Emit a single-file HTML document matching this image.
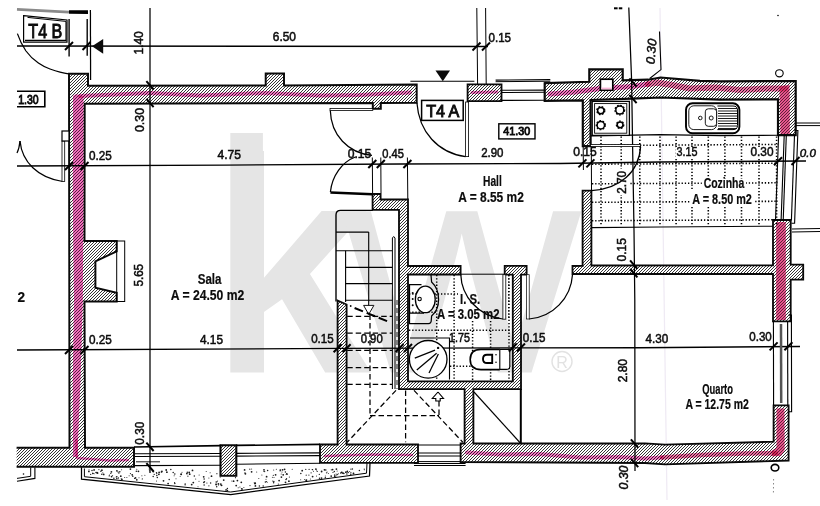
<!DOCTYPE html>
<html lang="pt"><head><meta charset="utf-8"><title>Planta T4 A</title>
<style>
html,body{margin:0;padding:0;background:#fff;overflow:hidden}
svg{display:block}
svg line,svg polyline,svg path,svg circle,svg ellipse,svg rect{fill:none;stroke:#000}
svg .w{fill:url(#h);stroke:#0a0a0a;stroke-linejoin:miter}
svg .pk{stroke:#f460b8;mix-blend-mode:multiply;fill:none;stroke-linecap:round;stroke-linejoin:round}
svg .pkf{fill:#f678c4;stroke:none;mix-blend-mode:multiply}
svg .pko{fill:#e8409f;stroke:none;opacity:0.2}
svg .pk.r{stroke:#f0669e}
svg .pkf.r{fill:#ee6098}
svg .pko.r{fill:#d83a74;opacity:0.3}
svg text{font-family:"Liberation Sans",sans-serif;fill:#0c0c0c;stroke:#0c0c0c;stroke-width:0.5px}
svg text.b{font-weight:bold;stroke-width:0.2px}
svg text.m{stroke-width:0.9px}
svg .wm{fill:#e5e5e5;stroke:none}
svg .fillw{fill:#fff}
#stip circle{fill:#1a1a1a;stroke:none}
svg .cov{fill:#fff;stroke:none}
svg .blk{fill:#0a0a0a;stroke:none}
</style></head>
<body>
<svg width="820" height="506" viewBox="0 0 820 506">
<defs>
<pattern id="h" width="3" height="3" patternUnits="userSpaceOnUse">
<rect x="0" y="0" width="3" height="3" style="fill:#fff;stroke:none"/>
<path d="M-1,4 L4,-1 M-1,1 L1,-1 M2,4 L4,2" style="stroke:#111;stroke-width:0.85;fill:none"/>
</pattern>
</defs>
<g id="wm">
<text class="wm" style="stroke:none" id="wk" x="200.7" y="372.5" font-size="305.7" font-weight="bold">k</text>
<rect class="cov" x="212" y="125" width="18.3" height="255"/>
<rect class="wm" x="230.3" y="133" width="32.6" height="25" style="stroke:none"/>
<text class="wm" style="stroke:none" id="ww" x="0" y="0" font-size="305" transform="translate(342.7,372.5) scale(1.08,1)">w</text>
<circle cx="562" cy="361.5" r="10" style="stroke:#e2e2e2;stroke-width:1.4;fill:none"/>
<text x="562" y="367.5" font-size="16" text-anchor="middle" style="fill:#e2e2e2;stroke:none">R</text>
</g>
<line x1="660" y1="8" x2="667" y2="500" stroke-width="1.25" style="stroke:#efeaf4"/>
<g id="thin">
<line x1="69.1" y1="19" x2="69.1" y2="56.4" stroke-width="1.38" />
<line x1="87.2" y1="19" x2="87.2" y2="55.7" stroke-width="1.38" />
<line x1="90.4" y1="10" x2="90.6" y2="80" stroke-width="1.25" />
<path d="M17.4,33.6 C21,44 24,48 26,51 C33,61 44,67 50,69 C57,71.5 62,73 68.5,73.8" stroke-width="1.25" />
<path d="M20,141 C22,162 38,178 62.7,181.5" stroke-width="1.25" />
<path d="M17,153 C18.5,150 19.5,146 20,141" stroke-width="1.25" />
<rect x="62" y="141" width="2.7" height="40.5" stroke-width="0.8" class="fillw"/>
<line x1="476.8" y1="8" x2="477.6" y2="84" stroke-width="1.00" />
<line x1="485.6" y1="8" x2="486.2" y2="84" stroke-width="1.00" />
<polyline points="659.5,31.4 661,69.6 649.7,78.5" stroke-width="1.12" />
<line x1="17" y1="9.3" x2="69" y2="12.2" stroke-width="2.75" style="stroke:#8a8a8a"/>
<line x1="69" y1="12" x2="88" y2="12.2" stroke-width="3.75" />
<line x1="614" y1="8.3" x2="617.6" y2="8.3" stroke-width="2.00" />
<line x1="618.8" y1="8.3" x2="622.3" y2="8.3" stroke-width="2.00" />
</g>
<g id="walls">
<polygon class="w" points="69,73.8 88,73.8 88,85.7 265.7,85.5 265.7,73.5 284,73.5 284,85.4 416.7,84.6 416.7,102.9 380.8,103 380.8,108.8 372.8,108.8 372.8,103.1 84.7,103.7 84.5,241 116.7,241 116.7,251.3 95.4,261.3 95.4,287.7 116.7,292.7 116.7,301.5 84.5,301.5 85,447.8 134,447.8 134,466.8 13,466.8 13,447.8 69.5,447.8" stroke-width="1.95"/>
<rect x="62" y="131" width="7" height="10" stroke-width="1.2" class="fillw"/>
<rect x="116.7" y="241" width="8" height="60.5" stroke-width="1.0"/>
<polygon class="w" points="220.5,445.3 236.3,445.3 236.3,475.8 220.5,475.8" stroke-width="2.07"/>
<polygon class="w" points="337.6,300.5 346.6,304.5 346.6,444.5 418,444.5 418,462.8 320,462.8 320,444.5 337.6,444.5" stroke-width="1.84"/>
<polygon class="w" points="372.6,194 380.6,194 380.6,199.5 408,199.5 408,266 460.6,266 460.6,274.5 408,274.5 408,381.4 512.8,381.4 512.8,274.7 504.7,274.7 504.7,265.9 526.6,265.9 526.6,274.7 521,274.7 521,389.2 473.4,389.2 473.4,443.5 645,443.3 665,444.7 773.6,441.7 773.6,405.3 788.6,405.3 788.6,460.5 665,464.3 645,463 460.6,462 460.6,443.5 464.6,443.5 464.6,389.2 399,389.2 399,209.8 372.6,209.8" stroke-width="1.84"/>
<polygon class="w" points="467.6,84.3 501.5,84.3 501.5,101.2 467.6,101.2" stroke-width="1.84"/>
<polygon class="w" points="544.7,83.2 589.3,81.8 589.3,69.3 622.7,69.3 622.7,80.3 648,79.7 660.5,77.5 700,80.8 720,81.3 795.7,81 795.7,135.1 778,135.1 778,99.3 720,99.6 661,97.5 632,98.6 590.6,100 590.6,146.1 582.8,146.1 582.8,100.4 544.7,100.8" stroke-width="2.18"/>
<polygon class="w" points="582.6,190.7 591.4,190.7 591.4,265.5 773,265.3 773,220 790.7,220 790.7,264.6 803.2,264.6 803.2,279.6 790.7,279.6 790.7,321.3 773,321.3 773,274 572.5,274 572.5,266 582.6,265.8" stroke-width="1.84"/>
</g>
<rect class="cov" x="0" y="440" width="16.6" height="32"/>
<g id="pink">
<polygon class="pkf" points="73,96 76,94 83.5,96.5 83.5,200 82.8,300 80.5,380 78,440 77.5,457 73,457 72.8,380 74,300 72.8,200"/>
<polygon class="pko" points="73,96 76,94 83.5,96.5 83.5,200 82.8,300 80.5,380 78,440 77.5,457 73,457 72.8,380 74,300 72.8,200"/>
<polyline class="pk" points="80,96 150,93 200,95.5 265,93 320,95.5 360,95 410,92.5" stroke-width="4.0" opacity="0.8969999999999999"/>
<polyline class="pk" points="76.5,440 77,458 110,460.5 128,460" stroke-width="2.6" opacity="0.9199999999999999"/>
<polyline class="pk" points="325,456 370,454.5 412,455" stroke-width="2.6" opacity="0.9199999999999999"/>
<polyline class="pk" points="472,92.5 497,92" stroke-width="3" opacity="0.9199999999999999"/>
<polyline class="pk" points="550,94 575,92 600,88.5 632,86.5 648,84" stroke-width="5" opacity="0.9199999999999999"/>
<polyline class="pk r" points="648,84 657,82.6 672,85 690,88.5 715,87.5 740,90 765,88.5 785,88.5" stroke-width="6.2" opacity="0.9199999999999999"/>
<polygon class="pkf r" points="779.5,86.5 789.5,85 789.8,134 780.5,134"/>
<polygon class="pko r" points="779.5,86.5 789.5,85 789.8,134 780.5,134"/>
<polygon class="pkf r" points="776.2,222 785.8,222 785.8,320 776.2,320"/>
<polygon class="pko r" points="776.2,222 785.8,222 785.8,320 776.2,320"/>
<polygon class="pkf r" points="776.6,408.4 784.4,408.4 784.6,450 781,456 772,456.3 771.8,450.5 776.6,448"/>
<polygon class="pko r" points="776.6,408.4 784.4,408.4 784.6,450 781,456 772,456.3 771.8,450.5 776.6,448"/>
<polyline class="pk" points="467,452.5 500,454.5 540,454 580,457.5 620,457 645,458.5 662,457.5" stroke-width="4.2" opacity="0.8624999999999999"/>
<polyline class="pk r" points="662,457.5 700,455 745,453.5 776,453.2" stroke-width="4.6" opacity="0.9774999999999999"/>
</g>
<rect x="600.4" y="79.2" width="12.4" height="11" stroke-width="1.7" class="fillw"/>
<rect x="601.3" y="87.6" width="10.6" height="1.8" style="fill:#f7b6d8;stroke:none"/>
<g id="tiles">
<line x1="601" y1="136.5" x2="601" y2="226" stroke-width="1.56" stroke-dasharray="1.3 1.9"/>
<line x1="621.2" y1="136.5" x2="621.2" y2="226" stroke-width="1.56" stroke-dasharray="1.3 1.9"/>
<line x1="639.8" y1="136.5" x2="639.8" y2="226" stroke-width="1.56" stroke-dasharray="1.3 1.9"/>
<line x1="660" y1="136.5" x2="660" y2="226" stroke-width="1.56" stroke-dasharray="1.3 1.9"/>
<line x1="676.1" y1="136.5" x2="676.1" y2="226" stroke-width="1.56" stroke-dasharray="1.3 1.9"/>
<line x1="692" y1="136.5" x2="692" y2="226" stroke-width="1.56" stroke-dasharray="1.3 1.9"/>
<line x1="708.3" y1="136.5" x2="708.3" y2="226" stroke-width="1.56" stroke-dasharray="1.3 1.9"/>
<line x1="724.9" y1="136.5" x2="724.9" y2="226" stroke-width="1.56" stroke-dasharray="1.3 1.9"/>
<line x1="741.5" y1="136.5" x2="741.5" y2="226" stroke-width="1.56" stroke-dasharray="1.3 1.9"/>
<line x1="759" y1="136.5" x2="759" y2="226" stroke-width="1.56" stroke-dasharray="1.3 1.9"/>
<line x1="776.6" y1="136.5" x2="776.6" y2="226" stroke-width="1.56" stroke-dasharray="1.3 1.9"/>
<line x1="592" y1="145.5" x2="778" y2="144.5" stroke-width="1.56" stroke-dasharray="1.3 1.9"/>
<line x1="592" y1="164.2" x2="778" y2="163.2" stroke-width="1.56" stroke-dasharray="1.3 1.9"/>
<line x1="592" y1="183.8" x2="778" y2="182.8" stroke-width="1.56" stroke-dasharray="1.3 1.9"/>
<line x1="592" y1="202.3" x2="778" y2="201.3" stroke-width="1.56" stroke-dasharray="1.3 1.9"/>
<line x1="592" y1="220.7" x2="778" y2="219.7" stroke-width="1.56" stroke-dasharray="1.3 1.9"/>
<rect class="cov" x="701.8" y="178.5" width="44.2" height="11.5"/>
<rect class="cov" x="691" y="190" width="63" height="16"/>
<rect class="cov" x="675.5" y="147" width="23.5" height="11.5"/>
<rect class="cov" x="749.5" y="147" width="24.5" height="11.5"/>
<rect class="cov" x="617" y="169" width="12" height="26"/>
</g>
<g id="dims">
<line x1="17" y1="46" x2="488" y2="46.5" stroke-width="1.38" />
<line x1="150" y1="8" x2="150" y2="473" stroke-width="1.25" />
<polyline points="17,166 225,165.1 400,164 560,163.5 660,162 806,161" stroke-width="1.38" />
<polyline points="17,350 340,348.4 520,347.9 640,347.7 800,346.5" stroke-width="1.38" />
<polyline points="628.8,7.5 631.6,80 632.6,146 634,230 634.8,300 635,471" stroke-width="1.25" />
</g>
<g id="doors">
<rect x="330" y="108.4" width="42.8" height="2" stroke-width="0.8" class="fillw"/>
<path d="M330.3,110.4 C331,135 348,153 372,155.4" stroke-width="1.25" />
<path d="M355.3,157 C342,162 332,176 330.4,192" stroke-width="1.25" />
<polyline points="330.4,192.5 372.4,194.3" stroke-width="2.50" />
<line x1="372.3" y1="157.5" x2="372.6" y2="193" stroke-width="1.00" />
<line x1="380.8" y1="157.5" x2="381" y2="193" stroke-width="1.00" />
<line x1="407.4" y1="157.5" x2="407.8" y2="199" stroke-width="1.00" />
<line x1="410.4" y1="81.3" x2="474.4" y2="81.3" stroke-width="1.12" />
<rect x="465.6" y="102" width="3" height="54.6" stroke-width="0.8" class="fillw"/>
<path d="M416.9,102.7 C419,132 438,153 465.6,156.6" stroke-width="1.25" />
<line x1="495.6" y1="80.1" x2="550.3" y2="79.6" stroke-width="1.12" />
<line x1="495.6" y1="81.7" x2="550.3" y2="81.2" stroke-width="1.00" />
<line x1="501.5" y1="90.3" x2="544.7" y2="90.1" stroke-width="1.12" />
<line x1="501.5" y1="92.5" x2="544.7" y2="92.3" stroke-width="1.12" />
<line x1="501.5" y1="100.4" x2="544.7" y2="100.2" stroke-width="1.12" />
<line x1="591.3" y1="146" x2="591.5" y2="190.7" stroke-width="1.00" />
<line x1="583.2" y1="146" x2="583.4" y2="170" stroke-width="1.00" />
<rect x="590.4" y="144.6" width="50.2" height="2" stroke-width="0.8" class="fillw"/>
<path d="M640.6,146.6 C639,172 620,189 591.4,190.7" stroke-width="1.25" />
<line x1="460.6" y1="274.2" x2="505" y2="274.2" stroke-width="1.00" />
<rect x="502.9" y="274.7" width="2.9" height="44.5" stroke-width="0.8" class="fillw"/>
<line x1="508.6" y1="275" x2="508.6" y2="319" stroke-width="1.12" stroke-dasharray="1.2 2"/>
<path d="M460.8,274.7 C461.5,296 478,316 502.9,319" stroke-width="1.25" />
<rect x="526.6" y="274.7" width="2.6" height="44.3" stroke-width="0.7" class="fillw"/>
<path d="M529,319 C553,317 571,298 572.5,274.7" stroke-width="1.25" />
<line x1="520.8" y1="389" x2="520.8" y2="443.5" stroke-width="2.00" />
<line x1="474" y1="392" x2="520.3" y2="443" stroke-width="1.12" />
<line x1="134" y1="447" x2="221" y2="445.6" stroke-width="1.62" />
<line x1="236" y1="445.4" x2="320" y2="444.4" stroke-width="1.62" />
<line x1="135" y1="453.8" x2="221" y2="453.5" stroke-width="1.12" />
<line x1="236" y1="453.4" x2="320" y2="452.9" stroke-width="1.12" />
<line x1="135" y1="456.5" x2="221" y2="456.2" stroke-width="1.12" />
<line x1="236" y1="456.1" x2="320" y2="455.6" stroke-width="1.12" />
<line x1="135" y1="465.6" x2="221" y2="465.2" stroke-width="1.12" />
<line x1="236" y1="464.2" x2="320" y2="463.3" stroke-width="1.12" />
<line x1="136" y1="461.8" x2="160" y2="461.8" stroke-width="0.88" />
<line x1="418" y1="445" x2="460.6" y2="445" stroke-width="1.00" />
<line x1="418" y1="453" x2="460.6" y2="453" stroke-width="1.00" />
<line x1="418" y1="456" x2="460.6" y2="456" stroke-width="1.00" />
<line x1="418" y1="461.6" x2="460.6" y2="461.6" stroke-width="1.00" />
<line x1="414" y1="463.5" x2="465.6" y2="463.5" stroke-width="1.00" />
<line x1="414" y1="465.5" x2="465.6" y2="465.5" stroke-width="1.00" />
<polyline points="81.5,467.3 81.5,479.2 230.7,494.5 369.5,476 370,463" stroke-width="1.25" />
<polyline points="84.4,468.5 84.4,476.7 230.7,492 366.5,473.2 367,463" stroke-width="1.00" />
<polyline points="17,478.4 30.7,476.3 30.7,467.5" stroke-width="1.00" />
<polyline points="17,481.2 34.9,478.4 34.9,467.5" stroke-width="1.12" />
<circle cx="23.5" cy="474" r="0.8" class="blk"/>
<line x1="778.6" y1="135.2" x2="775.5" y2="220.5" stroke-width="1.12" />
<line x1="784.2" y1="135.2" x2="781.1" y2="220.5" stroke-width="1.12" />
<line x1="786.3" y1="135.2" x2="783.2" y2="220.5" stroke-width="1.12" />
<line x1="794.5" y1="135.2" x2="791.4" y2="220.5" stroke-width="1.12" />
<polyline points="794.5,130.5 797.9,130.5 794.6,223.2 791.4,223.2" stroke-width="1.12" />
<line x1="795.7" y1="123" x2="820" y2="123" stroke-width="1.00" />
<line x1="795.7" y1="125.6" x2="820" y2="125.6" stroke-width="1.00" />
<line x1="792" y1="229" x2="820" y2="228.5" stroke-width="1.00" />
<line x1="792" y1="232" x2="820" y2="231.5" stroke-width="1.00" />
<line x1="773.4" y1="321" x2="773.6" y2="405.4" stroke-width="1.12" />
<line x1="787.6" y1="321" x2="787.8" y2="405.4" stroke-width="1.12" />
<line x1="781" y1="324" x2="781.2" y2="403" stroke-width="2.50" style="stroke:#555"/>
<polyline points="788.6,315 791.4,315 791.6,411.8 788.6,411.8" stroke-width="1.12" />
</g>
<g id="stip">
<circle cx="153.2" cy="476.5" r="0.75" />
<circle cx="341.6" cy="472.2" r="0.5" />
<circle cx="255.4" cy="485.9" r="0.9" />
<circle cx="159.1" cy="472.4" r="0.9" />
<circle cx="237.4" cy="480.6" r="0.9" />
<circle cx="264.7" cy="471.6" r="0.6" />
<circle cx="328.3" cy="473.4" r="0.5" />
<circle cx="273.7" cy="470.0" r="0.5" />
<circle cx="170.8" cy="469.5" r="0.75" />
<circle cx="218.4" cy="483.9" r="0.9" />
<circle cx="285.5" cy="482.3" r="0.9" />
<circle cx="289.4" cy="477.0" r="0.6" />
<circle cx="331.3" cy="469.8" r="0.6" />
<circle cx="273.8" cy="481.5" r="0.75" />
<circle cx="204.1" cy="485.0" r="0.75" />
<circle cx="235.5" cy="477.7" r="0.6" />
<circle cx="338.4" cy="473.8" r="0.5" />
<circle cx="325.1" cy="477.9" r="0.6" />
<circle cx="281.2" cy="473.9" r="0.5" />
<circle cx="285.4" cy="472.1" r="0.75" />
<circle cx="166.2" cy="470.0" r="0.9" />
<circle cx="111.6" cy="476.6" r="0.9" />
<circle cx="336.4" cy="469.1" r="0.9" />
<circle cx="300.7" cy="479.8" r="0.5" />
<circle cx="255.2" cy="483.2" r="0.9" />
<circle cx="286.7" cy="473.7" r="0.75" />
<circle cx="227.5" cy="490.6" r="0.75" />
<circle cx="89.0" cy="469.8" r="0.5" />
<circle cx="350.8" cy="474.2" r="0.75" />
<circle cx="256.7" cy="471.9" r="0.5" />
<circle cx="359.4" cy="470.4" r="0.75" />
<circle cx="353.5" cy="473.5" r="0.9" />
<circle cx="191.7" cy="484.6" r="0.9" />
<circle cx="266.0" cy="479.2" r="0.5" />
<circle cx="259.4" cy="486.0" r="0.75" />
<circle cx="206.9" cy="483.0" r="0.6" />
<circle cx="347.3" cy="471.6" r="0.75" />
<circle cx="231.9" cy="481.0" r="0.5" />
<circle cx="306.2" cy="480.4" r="0.75" />
<circle cx="92.6" cy="473.6" r="0.6" />
<circle cx="103.7" cy="474.4" r="0.9" />
<circle cx="185.1" cy="484.8" r="0.75" />
<circle cx="292.2" cy="469.3" r="0.5" />
<circle cx="352.4" cy="469.1" r="0.75" />
<circle cx="156.8" cy="475.5" r="0.75" />
<circle cx="136.3" cy="471.2" r="0.75" />
<circle cx="321.6" cy="471.5" r="0.9" />
<circle cx="116.2" cy="477.1" r="0.6" />
<circle cx="173.2" cy="472.5" r="0.75" />
<circle cx="153.4" cy="471.6" r="0.9" />
<circle cx="267.6" cy="470.6" r="0.75" />
<circle cx="350.9" cy="472.6" r="0.6" />
<circle cx="208.9" cy="485.8" r="0.6" />
<circle cx="109.2" cy="475.9" r="0.6" />
<circle cx="333.0" cy="472.5" r="0.6" />
<circle cx="305.8" cy="469.4" r="0.6" />
<circle cx="174.6" cy="482.5" r="0.6" />
<circle cx="327.1" cy="471.9" r="0.5" />
<circle cx="311.1" cy="472.8" r="0.6" />
<circle cx="204.1" cy="478.9" r="0.75" />
<circle cx="216.2" cy="482.0" r="0.75" />
<circle cx="203.7" cy="476.8" r="0.9" />
<circle cx="130.4" cy="469.1" r="0.9" />
<circle cx="242.4" cy="489.1" r="0.6" />
<circle cx="96.0" cy="472.6" r="0.75" />
<circle cx="238.2" cy="487.7" r="0.5" />
<circle cx="325.5" cy="477.6" r="0.5" />
<circle cx="312.2" cy="469.5" r="0.6" />
<circle cx="336.2" cy="475.7" r="0.5" />
<circle cx="90.7" cy="474.4" r="0.6" />
<circle cx="92.5" cy="473.0" r="0.5" />
<circle cx="348.1" cy="472.5" r="0.75" />
<circle cx="121.9" cy="479.3" r="0.9" />
<circle cx="312.6" cy="469.7" r="0.6" />
<circle cx="141.9" cy="475.8" r="0.5" />
<circle cx="134.6" cy="478.4" r="0.6" />
<circle cx="315.9" cy="469.1" r="0.9" />
<circle cx="100.9" cy="471.3" r="0.75" />
<circle cx="258.8" cy="478.4" r="0.5" />
<circle cx="218.5" cy="485.1" r="0.5" />
<circle cx="325.3" cy="475.9" r="0.5" />
<circle cx="121.6" cy="469.7" r="0.5" />
<circle cx="324.5" cy="469.8" r="0.9" />
<circle cx="174.8" cy="474.1" r="0.75" />
<circle cx="194.3" cy="476.1" r="0.75" />
<circle cx="187.3" cy="472.3" r="0.75" />
<circle cx="206.2" cy="471.5" r="0.5" />
<circle cx="286.1" cy="474.5" r="0.5" />
<circle cx="244.6" cy="469.9" r="0.9" />
<circle cx="255.0" cy="483.6" r="0.9" />
<circle cx="264.0" cy="469.8" r="0.9" />
<circle cx="101.8" cy="474.3" r="0.75" />
<circle cx="203.9" cy="482.3" r="0.9" />
<circle cx="92.0" cy="470.6" r="0.75" />
<circle cx="280.3" cy="470.1" r="0.9" />
<circle cx="149.4" cy="470.8" r="0.5" />
<circle cx="347.3" cy="471.2" r="0.75" />
<circle cx="120.8" cy="476.2" r="0.9" />
<circle cx="272.6" cy="480.9" r="0.5" />
<circle cx="312.6" cy="476.6" r="0.9" />
<circle cx="126.9" cy="477.6" r="0.5" />
<circle cx="233.6" cy="481.2" r="0.9" />
<circle cx="136.8" cy="469.3" r="0.5" />
<circle cx="94.1" cy="469.9" r="0.9" />
<circle cx="319.5" cy="478.3" r="0.75" />
<circle cx="309.1" cy="469.4" r="0.6" />
<circle cx="116.7" cy="476.5" r="0.5" />
<circle cx="239.9" cy="487.0" r="0.6" />
<circle cx="317.2" cy="471.4" r="0.6" />
<circle cx="266.6" cy="476.7" r="0.9" />
<circle cx="157.3" cy="477.6" r="0.75" />
<circle cx="241.7" cy="488.8" r="0.9" />
<circle cx="226.1" cy="489.9" r="0.9" />
<circle cx="321.5" cy="478.1" r="0.9" />
<circle cx="279.1" cy="480.6" r="0.9" />
<circle cx="130.4" cy="473.6" r="0.6" />
<circle cx="132.2" cy="474.8" r="0.9" />
<circle cx="341.8" cy="472.4" r="0.9" />
<circle cx="250.0" cy="485.6" r="0.6" />
<circle cx="161.3" cy="471.9" r="0.75" />
<circle cx="346.9" cy="474.0" r="0.75" />
<circle cx="273.6" cy="482.8" r="0.75" />
<circle cx="334.3" cy="471.4" r="0.75" />
<circle cx="220.3" cy="477.0" r="0.6" />
<circle cx="245.4" cy="473.8" r="0.9" />
<circle cx="302.2" cy="470.7" r="0.9" />
<circle cx="282.0" cy="472.1" r="0.5" />
<circle cx="220.8" cy="484.1" r="0.9" />
<circle cx="304.7" cy="479.4" r="0.5" />
<circle cx="216.9" cy="473.7" r="0.6" />
<circle cx="267.2" cy="482.2" r="0.5" />
<circle cx="353.5" cy="473.3" r="0.6" />
<circle cx="334.5" cy="474.9" r="0.6" />
<circle cx="139.0" cy="477.7" r="0.5" />
<circle cx="337.1" cy="470.9" r="0.5" />
<circle cx="174.1" cy="475.8" r="0.5" />
<circle cx="119.8" cy="471.7" r="0.75" />
<circle cx="97.0" cy="472.6" r="0.75" />
<circle cx="88.9" cy="471.4" r="0.9" />
<circle cx="192.5" cy="470.4" r="0.9" />
<circle cx="195.7" cy="479.0" r="0.5" />
<circle cx="332.6" cy="469.6" r="0.9" />
<circle cx="118.3" cy="478.0" r="0.75" />
<circle cx="113.9" cy="478.2" r="0.75" />
<circle cx="275.6" cy="474.8" r="0.9" />
<circle cx="169.2" cy="479.5" r="0.75" />
<circle cx="116.8" cy="478.5" r="0.75" />
<circle cx="274.0" cy="477.6" r="0.5" />
<circle cx="272.4" cy="477.3" r="0.5" />
<circle cx="286.6" cy="478.7" r="0.6" />
<circle cx="266.5" cy="481.5" r="0.6" />
<circle cx="136.8" cy="479.8" r="0.9" />
<circle cx="121.2" cy="478.8" r="0.6" />
<circle cx="343.0" cy="473.2" r="0.9" />
<circle cx="241.3" cy="482.3" r="0.9" />
<circle cx="221.1" cy="485.4" r="0.5" />
<circle cx="116.9" cy="470.8" r="0.9" />
<circle cx="186.9" cy="473.6" r="0.9" />
<circle cx="101.9" cy="470.2" r="0.9" />
<circle cx="300.8" cy="473.4" r="0.75" />
<circle cx="349.7" cy="471.5" r="0.5" />
<circle cx="185.1" cy="483.6" r="0.5" />
<circle cx="129.1" cy="475.7" r="0.5" />
<circle cx="243.9" cy="487.4" r="0.5" />
<circle cx="138.4" cy="471.3" r="0.9" />
<circle cx="273.3" cy="475.3" r="0.6" />
<circle cx="251.6" cy="471.8" r="0.9" />
<circle cx="308.9" cy="475.1" r="0.6" />
<circle cx="245.0" cy="473.1" r="0.75" />
<circle cx="189.7" cy="474.2" r="0.9" />
<circle cx="334.8" cy="476.2" r="0.9" />
<circle cx="174.8" cy="483.6" r="0.75" />
<circle cx="263.2" cy="486.1" r="0.75" />
<circle cx="336.0" cy="474.0" r="0.5" />
<circle cx="254.2" cy="482.7" r="0.5" />
<circle cx="116.9" cy="476.6" r="0.6" />
<circle cx="223.7" cy="480.1" r="0.9" />
<circle cx="142.3" cy="478.9" r="0.6" />
<circle cx="97.3" cy="473.0" r="0.9" />
<circle cx="118.0" cy="471.9" r="0.6" />
<circle cx="124.7" cy="477.6" r="0.5" />
<circle cx="94.1" cy="473.7" r="0.5" />
<circle cx="181.4" cy="474.5" r="0.75" />
<circle cx="280.1" cy="471.0" r="0.5" />
<circle cx="286.0" cy="479.6" r="0.75" />
<circle cx="364.4" cy="469.7" r="0.5" />
<circle cx="326.5" cy="472.8" r="0.6" />
<circle cx="98.9" cy="469.6" r="0.6" />
<circle cx="283.2" cy="474.8" r="0.9" />
<circle cx="281.4" cy="477.1" r="0.9" />
<circle cx="144.9" cy="475.3" r="0.5" />
<circle cx="216.1" cy="484.5" r="0.9" />
<circle cx="208.9" cy="478.0" r="0.5" />
<circle cx="287.1" cy="474.2" r="0.75" />
<circle cx="211.5" cy="476.2" r="0.9" />
<circle cx="149.2" cy="469.0" r="0.6" />
<circle cx="158.9" cy="474.3" r="0.9" />
<circle cx="93.2" cy="473.4" r="0.6" />
<circle cx="264.0" cy="471.4" r="0.6" />
<circle cx="210.1" cy="472.7" r="0.5" />
<circle cx="199.1" cy="474.9" r="0.5" />
<circle cx="282.6" cy="469.8" r="0.9" />
<circle cx="97.9" cy="473.0" r="0.6" />
<circle cx="154.2" cy="474.4" r="0.6" />
<circle cx="132.8" cy="476.3" r="0.75" />
<circle cx="340.7" cy="473.0" r="0.75" />
<circle cx="163.5" cy="480.8" r="0.9" />
<circle cx="306.4" cy="480.1" r="0.9" />
<circle cx="156.5" cy="472.8" r="0.75" />
<circle cx="261.9" cy="475.1" r="0.5" />
<circle cx="102.8" cy="472.7" r="0.5" />
<circle cx="251.6" cy="469.1" r="0.5" />
<circle cx="276.3" cy="469.3" r="0.5" />
<circle cx="337.2" cy="474.5" r="0.75" />
<circle cx="310.4" cy="479.1" r="0.5" />
<circle cx="193.3" cy="482.6" r="0.9" />
<circle cx="111.4" cy="471.8" r="0.9" />
<circle cx="118.9" cy="473.0" r="0.75" />
<circle cx="236.2" cy="485.6" r="0.9" />
<circle cx="135.5" cy="477.9" r="0.9" />
<circle cx="319.3" cy="474.4" r="0.6" />
<circle cx="187.9" cy="476.2" r="0.6" />
<circle cx="210.6" cy="483.0" r="0.75" />
<circle cx="161.9" cy="471.5" r="0.9" />
<circle cx="350.9" cy="469.2" r="0.6" />
<circle cx="284.6" cy="469.3" r="0.9" />
<circle cx="112.6" cy="475.6" r="0.5" />
<circle cx="176.0" cy="478.8" r="0.5" />
<circle cx="331.2" cy="476.1" r="0.9" />
<circle cx="216.7" cy="486.8" r="0.75" />
<circle cx="364.2" cy="469.0" r="0.6" />
<circle cx="198.0" cy="486.7" r="0.5" />
<circle cx="181.1" cy="474.2" r="0.9" />
<circle cx="109.5" cy="475.0" r="0.6" />
<circle cx="278.3" cy="484.1" r="0.6" />
<circle cx="249.8" cy="469.2" r="0.6" />
<circle cx="166.9" cy="472.2" r="0.9" />
<circle cx="227.4" cy="488.6" r="0.75" />
<circle cx="306.2" cy="475.2" r="0.6" />
<circle cx="217.0" cy="481.8" r="0.5" />
<circle cx="316.5" cy="470.1" r="0.5" />
<circle cx="325.8" cy="469.9" r="0.75" />
<circle cx="110.8" cy="473.4" r="0.6" />
<circle cx="316.5" cy="475.9" r="0.5" />
<circle cx="265.4" cy="482.1" r="0.75" />
<circle cx="199.0" cy="481.3" r="0.5" />
<circle cx="168.1" cy="483.6" r="0.9" />
<circle cx="313.5" cy="471.2" r="0.5" />
<circle cx="216.0" cy="483.9" r="0.5" />
<circle cx="182.0" cy="472.2" r="0.5" />
<circle cx="343.9" cy="473.4" r="0.75" />
<circle cx="204.6" cy="481.5" r="0.6" />
<circle cx="156.5" cy="480.9" r="0.5" />
<circle cx="180.2" cy="476.2" r="0.5" />
<circle cx="156.8" cy="473.6" r="0.6" />
<circle cx="288.9" cy="481.2" r="0.9" />
<circle cx="345.9" cy="472.2" r="0.9" />
<circle cx="189.2" cy="472.4" r="0.9" />
<circle cx="221.6" cy="485.3" r="0.9" />
<circle cx="217.5" cy="481.1" r="0.5" />
</g>
<g id="stairs">
<path d="M336,301.6 L336,215 Q336,210.4 340.6,210.4 L372.8,210.4" stroke-width="1.38" />
<line x1="336" y1="232.1" x2="368.7" y2="232.1" stroke-width="1.12" />
<line x1="368.7" y1="232.1" x2="368.7" y2="305.4" stroke-width="1.12" />
<line x1="336" y1="250.7" x2="392.4" y2="250.7" stroke-width="1.12" />
<line x1="345.6" y1="250.7" x2="345.6" y2="302" stroke-width="1.12" />
<line x1="345.6" y1="267.4" x2="392.4" y2="267.4" stroke-width="1.12" />
<line x1="345.6" y1="283.6" x2="392.4" y2="283.6" stroke-width="1.12" />
<line x1="345.6" y1="300.3" x2="392.4" y2="300.3" stroke-width="1.12" />
<path d="M392.4,389 L392.4,238 Q393.7,235 395,238 L395,389" stroke-width="1.00" />
<line x1="397" y1="300" x2="397" y2="389" stroke-width="0.88" stroke-dasharray="5 3"/>
<polygon points="363.6,305.4 373.9,305.4 368.7,314.4" stroke-width="1.0" class="fillw" style="stroke:#111"/>
<line x1="354.6" y1="308" x2="389.3" y2="322" stroke-width="2.00" stroke-dasharray="9 4"/>
<circle cx="350.7" cy="306" r="0.9" class="blk"/>
<line x1="347.2" y1="316.3" x2="392" y2="316.3" stroke-width="1.25" stroke-dasharray="5.5 3"/>
<line x1="347.2" y1="333.2" x2="392" y2="333.2" stroke-width="1.25" stroke-dasharray="5.5 3"/>
<line x1="347.2" y1="350.4" x2="392" y2="350.4" stroke-width="1.25" stroke-dasharray="5.5 3"/>
<line x1="347.2" y1="367.6" x2="392" y2="367.6" stroke-width="1.25" stroke-dasharray="5.5 3"/>
<line x1="347.2" y1="384.4" x2="392" y2="384.4" stroke-width="1.25" stroke-dasharray="5.5 3"/>
<line x1="370" y1="314.4" x2="370" y2="415.6" stroke-width="1.25" stroke-dasharray="5.5 3"/>
<line x1="370" y1="415.6" x2="439" y2="415.6" stroke-width="1.25" stroke-dasharray="5.5 3"/>
<line x1="405.6" y1="390.4" x2="405.6" y2="442.2" stroke-width="1.25" stroke-dasharray="5.5 3"/>
<line x1="439" y1="401" x2="439" y2="415.6" stroke-width="1.25" stroke-dasharray="5.5 3"/>
<line x1="396" y1="390.4" x2="347.2" y2="442.2" stroke-width="1.25" stroke-dasharray="5.5 3"/>
<line x1="414" y1="390.4" x2="462.8" y2="442.2" stroke-width="1.25" stroke-dasharray="5.5 3"/>
<polyline points="438,392 443.5,398.5 440.2,398.5 440.2,401 435.8,401 435.8,398.5 432.3,398.5 438,392" stroke-width="1.12" class="fillw"/>
</g>
<g id="bath">
<line x1="436.7" y1="275" x2="436.7" y2="380" stroke-width="1.50" stroke-dasharray="1.3 1.9"/>
<line x1="454.1" y1="275" x2="454.1" y2="380" stroke-width="1.50" stroke-dasharray="1.3 1.9"/>
<line x1="472.6" y1="321" x2="472.6" y2="380" stroke-width="1.50" stroke-dasharray="1.3 1.9"/>
<line x1="490.6" y1="321" x2="490.6" y2="380" stroke-width="1.50" stroke-dasharray="1.3 1.9"/>
<line x1="509" y1="275" x2="509" y2="380" stroke-width="1.50" stroke-dasharray="1.3 1.9"/>
<line x1="409" y1="294" x2="458" y2="294" stroke-width="1.50" stroke-dasharray="1.3 1.9"/>
<line x1="409" y1="312.3" x2="437" y2="312.3" stroke-width="1.50" stroke-dasharray="1.3 1.9"/>
<line x1="409" y1="330.3" x2="511" y2="330.3" stroke-width="1.50" stroke-dasharray="1.3 1.9"/>
<line x1="450" y1="366.2" x2="511" y2="366.2" stroke-width="1.50" stroke-dasharray="1.3 1.9"/>
<path d="M421.5,284.5 L409.5,284.5 L409.5,323.7 L428.5,323.7 Q431.3,323.5 431.3,320 L431.6,316 C436,312 438.6,306 438.6,299.4 C438.6,292 436,286 431.6,282 L431,275 M409.5,313 L424,313" stroke-width="1.25" />
<ellipse cx="425.3" cy="299.4" rx="9.9" ry="13.3" stroke-width="1.3" class="fillw"/>
<circle cx="419.6" cy="299" r="1.7" stroke-width="1.1"/>
<circle cx="412.7" cy="293" r="1.0" class="blk"/>
<circle cx="412.7" cy="299" r="1.0" class="blk"/>
<circle cx="412.7" cy="305.3" r="1.0" class="blk"/>
<polyline points="410,338 449.5,338 449.5,379.5" stroke-width="1.12" />
<circle cx="428.2" cy="359.3" r="18.8" stroke-width="1.3" class="fillw"/>
<line x1="435" y1="350.2" x2="414.8" y2="358.2" stroke-width="1.25" />
<line x1="436.6" y1="353.2" x2="416.8" y2="370" stroke-width="1.25" />
<line x1="438.4" y1="354" x2="429" y2="373" stroke-width="1.25" />
<circle cx="438.1" cy="347.9" r="1.2" class="blk"/>
<path d="M499.8,349.4 L481,349.4 C472.5,349.4 470.2,354 470.2,359.5 C470.2,365 472.5,369.6 481,369.6 L499.8,369.6" stroke-width="1.62" class="fillw"/>
<path d="M499.8,349.4 L509.8,349.4 L509.8,366.5 Q509.8,369.4 506.5,369.4 L499.8,369.4 Z" stroke-width="1.12" class="fillw"/>
<path d="M492.2,354.7 L487,354.7 C483.8,354.7 483,356.8 483,358.9 C483,361 483.8,363 487,363 L492.2,363 Z" stroke-width="1.88" />
<circle cx="496" cy="354.7" r="0.8" class="blk"/><circle cx="496" cy="362.3" r="0.8" class="blk"/>
</g>
<g id="kitchen">
<polyline points="591.4,227.6 660,227 773,226.2" stroke-width="1.12" />
<polyline points="591,135.9 660,134.6 720,135.6 778,135.3" stroke-width="1.12" />
<rect x="592.2" y="101.4" width="37.2" height="34" stroke-width="1.3" class="fillw"/>
<rect x="594.6" y="103.6" width="32.2" height="29.6" stroke-width="0.9"/>
<circle cx="600.8" cy="110.6" r="3.2" stroke-width="1.5" class="fillw"/>
<circle cx="600.8" cy="110.6" r="4.0" stroke-width="1.3" stroke-dasharray="1.7 1.5"/>
<circle cx="619.8" cy="110.1" r="4.0" stroke-width="1.5" class="fillw"/>
<circle cx="619.8" cy="110.1" r="4.8" stroke-width="1.3" stroke-dasharray="1.7 1.5"/>
<circle cx="600.8" cy="125.2" r="3.7" stroke-width="1.5" class="fillw"/>
<circle cx="600.8" cy="125.2" r="4.5" stroke-width="1.3" stroke-dasharray="1.7 1.5"/>
<circle cx="620.1" cy="124.8" r="2.9" stroke-width="1.5" class="fillw"/>
<circle cx="620.1" cy="124.8" r="3.7" stroke-width="1.3" stroke-dasharray="1.7 1.5"/>
<rect x="686" y="103.3" width="53.4" height="30" rx="6.5" stroke-width="1.9" class="fillw"/>
<rect x="688.8" y="105.8" width="27.8" height="23.8" rx="5" stroke-width="0.9"/>
<rect x="705.3" y="108.8" width="11.3" height="17.5" rx="3" stroke-width="0.9" class="fillw"/>
<circle cx="700.3" cy="118" r="1.8" stroke-width="0.9"/><circle cx="711.2" cy="118" r="2" stroke-width="0.9"/>
<line x1="718" y1="108.5" x2="737" y2="108.5" stroke-width="0.88" />
<line x1="718" y1="111" x2="737" y2="111" stroke-width="0.88" />
<line x1="718" y1="113.5" x2="737" y2="113.5" stroke-width="0.88" />
<line x1="718" y1="116" x2="737" y2="116" stroke-width="0.88" />
<line x1="718" y1="118.5" x2="737" y2="118.5" stroke-width="0.88" />
<line x1="718" y1="121" x2="737" y2="121" stroke-width="0.88" />
<line x1="718" y1="123.5" x2="737" y2="123.5" stroke-width="0.88" />
<line x1="718" y1="126" x2="737" y2="126" stroke-width="0.88" />
<line x1="718" y1="128.5" x2="737" y2="128.5" stroke-width="0.88" />
<path d="M717.4,106 L733,106 Q737.5,106 737.5,110 L737.5,125.5 Q737.5,129.6 733,129.6 L717.4,129.6" stroke-width="1.00" />
</g>
<ellipse cx="779.4" cy="73.3" rx="3.8" ry="3.6" stroke-width="1.1"/>
<ellipse cx="775" cy="467.7" rx="3.8" ry="3.3" stroke-width="1.6"/>
<line x1="773.6" y1="479" x2="773.4" y2="494" stroke-width="0.88" stroke-dasharray="1.5 2.5" style="stroke:#777"/>
<circle cx="778" cy="15.5" r="0.8" class="blk"/>
<g id="ticks">
<line x1="65" y1="50" x2="73" y2="42" stroke-width="2.00" />
<line x1="82.5" y1="50" x2="90.5" y2="42" stroke-width="2.00" />
<line x1="472.5" y1="50.5" x2="480.5" y2="42.5" stroke-width="2.00" />
<line x1="482" y1="50.5" x2="490" y2="42.5" stroke-width="2.00" />
<line x1="65" y1="170" x2="73" y2="162" stroke-width="2.00" />
<line x1="80.5" y1="170" x2="88.5" y2="162" stroke-width="2.00" />
<line x1="368.3" y1="168" x2="376.3" y2="160" stroke-width="2.00" />
<line x1="376.8" y1="168" x2="384.8" y2="160" stroke-width="2.00" />
<line x1="403.4" y1="168" x2="411.4" y2="160" stroke-width="2.00" />
<line x1="578.4" y1="167.4" x2="586.4" y2="159.4" stroke-width="2.00" />
<line x1="586.4" y1="167.4" x2="594.4" y2="159.4" stroke-width="2.00" />
<line x1="774" y1="165.2" x2="782" y2="157.2" stroke-width="2.00" />
<line x1="791.5" y1="165" x2="799.5" y2="157" stroke-width="2.00" />
<line x1="65" y1="354" x2="73" y2="346" stroke-width="2.00" />
<line x1="80.5" y1="354" x2="88.5" y2="346" stroke-width="2.00" />
<line x1="333.6" y1="352.3" x2="341.6" y2="344.3" stroke-width="2.00" />
<line x1="342.6" y1="352.3" x2="350.6" y2="344.3" stroke-width="2.00" />
<line x1="395.5" y1="352" x2="403.5" y2="344" stroke-width="2.00" />
<line x1="404" y1="352" x2="412" y2="344" stroke-width="2.00" />
<line x1="508.8" y1="351.5" x2="516.8" y2="343.5" stroke-width="2.00" />
<line x1="517" y1="351.5" x2="525" y2="343.5" stroke-width="2.00" />
<line x1="769.6" y1="350.4" x2="777.6" y2="342.4" stroke-width="2.00" />
<line x1="784.4" y1="350.3" x2="792.4" y2="342.3" stroke-width="2.00" />
<line x1="146.4" y1="81.1" x2="153.6" y2="89.5" stroke-width="2.00" />
<line x1="146.4" y1="98.8" x2="153.6" y2="107.2" stroke-width="2.00" />
<line x1="146.4" y1="442.6" x2="153.6" y2="451" stroke-width="2.00" />
<line x1="146.4" y1="463.1" x2="153.6" y2="471.5" stroke-width="2.00" />
<line x1="629.4" y1="78.3" x2="636.6" y2="86.7" stroke-width="2.00" />
<line x1="629.4" y1="94.8" x2="636.6" y2="103.2" stroke-width="2.00" />
<line x1="630.1" y1="260.4" x2="637.3" y2="268.8" stroke-width="2.00" />
<line x1="630.2" y1="269" x2="637.4" y2="277.4" stroke-width="2.00" />
<line x1="630.9" y1="439.3" x2="638.1" y2="447.7" stroke-width="2.00" />
<line x1="631" y1="458.8" x2="638.2" y2="467.2" stroke-width="2.00" />
</g>
<polygon class="blk" points="92,46.2 103.2,39 103.2,53.7"/>
<polygon class="blk" points="435.5,70.5 450,70.5 442.8,81.3"/>
<polygon points="23.6,15.6 67,20 67,42.2 23.6,42.2" stroke-width="1.2" class="fillw" style="stroke:#000"/>
<polyline points="27.5,17.4 66,21.4" stroke-width="1.00" />
<polyline points="25,40.4 66,40.4 66,21.4" stroke-width="1.12" />
<rect x="421.6" y="100.4" width="41.6" height="20" stroke-width="1.5" class="fillw"/>
<rect x="498.8" y="123.8" width="36.2" height="15.1" stroke-width="1.4" class="fillw"/>
<polyline points="17,91.2 44.8,91.2 44.8,106.8 17,106.8" stroke-width="1.62" />
<g id="txt">
<text class="t m" x="28.3" y="38" font-size="19.4" textLength="34" lengthAdjust="spacingAndGlyphs" >T4 B</text>
<text class="t m" x="426.2" y="116.9" font-size="16.4" textLength="33.2" lengthAdjust="spacingAndGlyphs" >T4 A</text>
<text class="t m" x="503.3" y="135.4" font-size="11.6" textLength="26.8" lengthAdjust="spacingAndGlyphs" >41.30</text>
<text class="t m" x="18.2" y="103.6" font-size="12.6" textLength="20.4" lengthAdjust="spacingAndGlyphs" >1.30</text>
<text class="t" x="272.8" y="41" font-size="12" textLength="23.2" lengthAdjust="spacingAndGlyphs" >6.50</text>
<text class="t" x="488.5" y="41.7" font-size="12.3" textLength="22.5" lengthAdjust="spacingAndGlyphs" >0.15</text>
<text class="t" transform="translate(142.7,54.6) rotate(-90)" font-size="12.3" textLength="23.3" lengthAdjust="spacingAndGlyphs" >1.40</text>
<text class="t" transform="translate(144.2,132) rotate(-90)" font-size="12.3" textLength="24" lengthAdjust="spacingAndGlyphs" >0.30</text>
<text class="t" x="89" y="159.5" font-size="12.3" textLength="22.8" lengthAdjust="spacingAndGlyphs" >0.25</text>
<text class="t" x="217.5" y="159.2" font-size="12.3" textLength="23.5" lengthAdjust="spacingAndGlyphs" >4.75</text>
<text class="t" x="347.7" y="158.2" font-size="12.3" textLength="23.6" lengthAdjust="spacingAndGlyphs" >0.15</text>
<text class="t" x="382.3" y="158.2" font-size="12.3" textLength="21.6" lengthAdjust="spacingAndGlyphs" >0.45</text>
<text class="t" x="481.2" y="157.4" font-size="12.3" textLength="22.3" lengthAdjust="spacingAndGlyphs" >2.90</text>
<text class="t" x="573.3" y="156" font-size="12.3" textLength="23.5" lengthAdjust="spacingAndGlyphs" >0.15</text>
<text class="t" x="676.5" y="155.7" font-size="12.3" textLength="21" lengthAdjust="spacingAndGlyphs" >3.15</text>
<text class="t" x="750.5" y="155.7" font-size="12.3" textLength="23" lengthAdjust="spacingAndGlyphs" >0.30</text>
<text class="t" x="799.8" y="156.6" font-size="11.6" font-style="italic">0.0</text>
<text class="t" transform="translate(142.7,286.5) rotate(-90)" font-size="12.3" textLength="22.5" lengthAdjust="spacingAndGlyphs" >5.65</text>
<text class="t b" x="17.5" y="301.6" font-size="14.5" textLength="7.6" lengthAdjust="spacingAndGlyphs" >2</text>
<text class="t" x="89" y="343.5" font-size="12.3" textLength="22.8" lengthAdjust="spacingAndGlyphs" >0.25</text>
<text class="t" x="200" y="343.7" font-size="12.3" textLength="23" lengthAdjust="spacingAndGlyphs" >4.15</text>
<text class="t" x="311.2" y="342.7" font-size="12.3" textLength="22.5" lengthAdjust="spacingAndGlyphs" >0.15</text>
<text class="t" x="360.7" y="342.5" font-size="12.3" textLength="22" lengthAdjust="spacingAndGlyphs" >0.90</text>
<text class="t" x="449" y="342.4" font-size="12.3" textLength="21" lengthAdjust="spacingAndGlyphs" >1.75</text>
<text class="t" x="522.8" y="342.2" font-size="12.3" textLength="22.6" lengthAdjust="spacingAndGlyphs" >0.15</text>
<text class="t" x="645.5" y="342.8" font-size="12.3" textLength="22.8" lengthAdjust="spacingAndGlyphs" >4.30</text>
<text class="t" x="749.3" y="340.8" font-size="12.3" textLength="22.5" lengthAdjust="spacingAndGlyphs" >0.30</text>
<text class="t" transform="translate(144.2,444.7) rotate(-90)" font-size="12.3" textLength="23" lengthAdjust="spacingAndGlyphs" >0.30</text>
<text class="t" transform="translate(626.4,193.8) rotate(-90)" font-size="12.3" textLength="23" lengthAdjust="spacingAndGlyphs" >2.70</text>
<text class="t" transform="translate(625.9,261.5) rotate(-90)" font-size="12.3" textLength="23.5" lengthAdjust="spacingAndGlyphs" >0.15</text>
<text class="t" transform="translate(626.7,382.3) rotate(-90)" font-size="12.3" textLength="23.3" lengthAdjust="spacingAndGlyphs" >2.80</text>
<text class="t" transform="translate(628.4,489.4) rotate(-90)" font-size="12.3" textLength="23.8" lengthAdjust="spacingAndGlyphs" font-style="italic">0.30</text>
<text class="t" transform="translate(654.6,64.6) rotate(-86)" font-size="12.3" textLength="25.6" lengthAdjust="spacingAndGlyphs" font-style="italic">0.30</text>
<text class="t b" x="197.7" y="284" font-size="14.3" textLength="23.8" lengthAdjust="spacingAndGlyphs" >Sala</text>
<text class="t b" x="170.7" y="299.6" font-size="14.3" textLength="73.6" lengthAdjust="spacingAndGlyphs" >A = 24.50 m2</text>
<text class="t b" x="483" y="186" font-size="14.3" textLength="18.8" lengthAdjust="spacingAndGlyphs" >Hall</text>
<text class="t b" x="458.3" y="201.5" font-size="14.3" textLength="65.5" lengthAdjust="spacingAndGlyphs" >A = 8.55 m2</text>
<text class="t b" x="460" y="303.6" font-size="14.3" textLength="20.3" lengthAdjust="spacingAndGlyphs" >I. S.</text>
<text class="t b" x="437" y="318.9" font-size="14.3" textLength="62.5" lengthAdjust="spacingAndGlyphs" >A = 3.05 m2</text>
<text class="t b" x="703.7" y="187.7" font-size="14.3" textLength="40.6" lengthAdjust="spacingAndGlyphs" >Cozinha</text>
<text class="t b" x="692.3" y="203.9" font-size="14.3" textLength="59.6" lengthAdjust="spacingAndGlyphs" >A = 8.50 m2</text>
<text class="t b" x="702.2" y="393.8" font-size="14.3" textLength="30.8" lengthAdjust="spacingAndGlyphs" >Quarto</text>
<text class="t b" x="685.4" y="408.9" font-size="14.3" textLength="63.4" lengthAdjust="spacingAndGlyphs" >A = 12.75 m2</text>
</g>
</svg>
</body></html>
